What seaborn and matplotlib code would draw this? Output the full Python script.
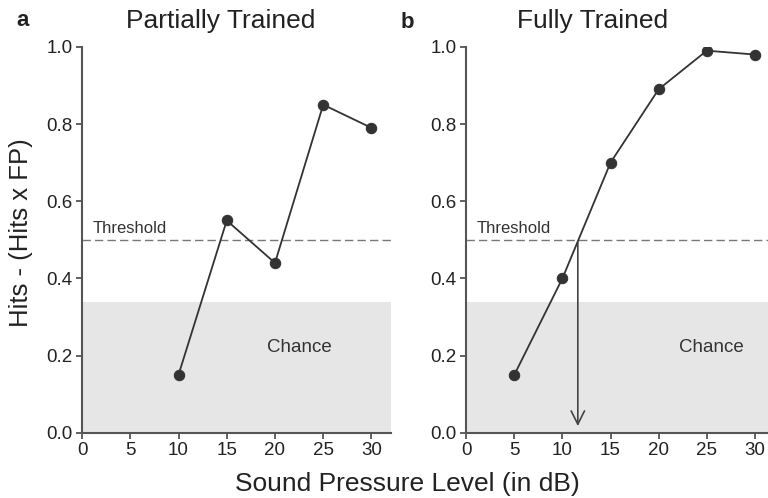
import matplotlib
matplotlib.use("Agg")
import matplotlib.pyplot as plt
import seaborn as sns
import pandas as pd

# data
spl_partial = [10, 15, 20, 25, 30]
score_partial = [0.15, 0.55, 0.44, 0.85, 0.79]
spl_full = [5, 10, 15, 20, 25, 30]
score_full = [0.15, 0.40, 0.70, 0.89, 0.99, 0.98]
threshold = 0.5
chance_top = 0.34
threshold_spl = 11.6
x_ticks = [0, 5, 10, 15, 20, 25, 30]
y_ticks = [0.0, 0.2, 0.4, 0.6, 0.8, 1.0]

sns.set_style("ticks")
plt.rcParams['font.family'] = ['Liberation Sans', 'DejaVu Sans']

fig = plt.figure(figsize=(7.68, 4.98), dpi=100)
ax_a = fig.add_axes([0.1068, 0.131, 0.402, 0.775])
ax_b = fig.add_axes([0.607, 0.131, 0.393, 0.775])

panels = [
    (ax_a, spl_partial, score_partial, 32, "Partially Trained", 0.45, 22.5),
    (ax_b, spl_full, score_full, 31.36, "Fully Trained", 0.42, 25.5),
]

for ax, xs, ys, xmax, title, title_x, chance_x in panels:
    df = pd.DataFrame({"spl": xs, "score": ys})
    ax.axhspan(0, chance_top, color="#e6e6e6", lw=0, zorder=0)
    ax.axhline(threshold, color="#777777", lw=1.0, ls=(0, (6, 3)), zorder=1)
    sns.lineplot(data=df, x="spl", y="score", ax=ax, color="#333333", lw=1.3,
                 marker="o", markersize=7.5, markeredgecolor="#333333", zorder=3)
    ax.set_xlim(0, xmax)
    ax.set_ylim(0, 1.0)
    ax.set_xticks(x_ticks)
    ax.set_yticks(y_ticks)
    ax.set_yticklabels([f"{v:.1f}" for v in y_ticks])
    ax.set_xlabel("")
    ax.set_ylabel("")
    ax.tick_params(labelsize=13.5, colors="#555555", length=4, width=1.3,
                   labelcolor="#222222", pad=3)
    for s in ["left", "bottom"]:
        ax.spines[s].set_color("#555555")
        ax.spines[s].set_linewidth(1.5)
    sns.despine(ax=ax)
    ax.text(0.035, threshold + 0.01, "Threshold", fontsize=12, color="#333333",
            transform=ax.get_yaxis_transform(), ha="left", va="bottom")
    ax.text(chance_x, 0.22, "Chance", fontsize=13.5, color="#333333",
            ha="center", va="center")
    ax.text(title_x, 1.066, title, fontsize=19, color="#222222",
            transform=ax.transAxes, ha="center", va="center")

fig.text(0.029, 0.958, "a", fontsize=16, fontweight="bold", color="#222222",
         ha="center", va="center")
fig.text(0.53, 0.955, "b", fontsize=16, fontweight="bold", color="#222222",
         ha="center", va="center")

ax_b.annotate("", xy=(threshold_spl, 0.01), xytext=(threshold_spl, threshold),
              arrowprops=dict(arrowstyle="->", color="#444444", lw=1.2,
                              mutation_scale=24), zorder=4)

fig.text(0.027, 0.532, "Hits - (Hits x FP)", fontsize=18.5, color="#222222",
         rotation=90, ha="center", va="center")
fig.text(0.531, 0.028, "Sound Pressure Level (in dB)", fontsize=19,
         color="#222222", ha="center", va="center")

fig.savefig("out.png", dpi=100)
